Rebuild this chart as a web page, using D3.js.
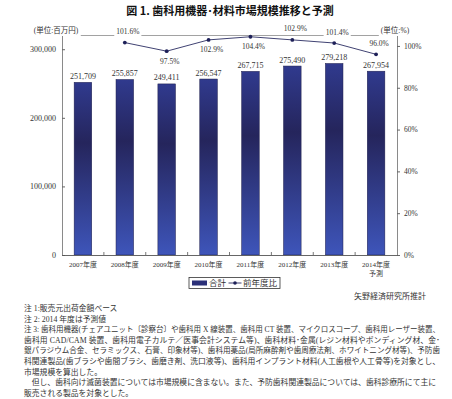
<!DOCTYPE html>
<html>
<head>
<meta charset="utf-8">
<script src="https://cdn.jsdelivr.net/npm/d3@7"></script>
<style>
  html, body { margin: 0; padding: 0; background: #fff; }
  svg { display: block; }
  text { font-family: "Liberation Serif", "Noto Sans CJK JP", serif; fill: #333; }
</style>
</head>
<body>
<svg id="chart" width="452" height="399"></svg>
<script>
// ---- data ----
const years = ["2007年度", "2008年度", "2009年度", "2010年度", "2011年度", "2012年度", "2013年度", "2014年度"];
const yearSub = ["", "", "", "", "", "", "", "予測"];
const totals = [251709, 255857, 249411, 256547, 267715, 275490, 279218, 267954];
const yoy = [null, 101.6, 97.5, 102.9, 104.4, 102.9, 101.4, 96.0];
const yoyLabelSide = [null, "above", "below", "below", "below", "above", "above", "above"];
const leftTicks = [0, 100000, 200000, 300000];
const rightTicks = [0, 20, 40, 60, 80, 100];
const title = "図 1. 歯科用機器･材料市場規模推移と予測";
const leftUnit = "(単位:百万円)";
const rightUnit = "(単位:%)";
const legendLabels = ["合計", "前年度比"];
const source = "矢野経済研究所推計";
const notes = [
  "注 1:販売元出荷金額ベース",
  " 注 2: 2014 年度は予測値",
  "注 3:  歯科用機器(チェアユニット〔診察台〕や歯科用 X 線装置、歯科用 CT 装置、マイクロスコープ、歯科用レーザー装置、",
  "歯科用 CAD/CAM 装置、歯科用電子カルテ／医事会計システム等)、歯科材料･金属(レジン材料やボンディング材、金･",
  "銀パラジウム合金、セラミックス、石膏、印象材等)、歯科用薬品(局所麻酔剤や歯周療法剤、ホワイトニング材等)、予防歯",
  "科関連製品(歯ブラシや歯間ブラシ、歯磨き剤、洗口液等)、歯科用インプラント材料(人工歯根や人工骨等)を対象とし、",
  "市場規模を算出した。",
  "　但し、歯科向け滅菌装置については市場規模に含まない。また、予防歯科関連製品については、歯科診療所にて主に",
  "販売される製品を対象とした。"
];
const notesJustify = [false, false, true, true, true, true, false, true, false];

// ---- layout ----
const L = 62, R = 397, T = 35.5, B = 255;
const svg = d3.select("#chart");

const x = d3.scaleBand().domain(years).range([L, R]).paddingInner(0.58).paddingOuter(0.29);
const yL = d3.scaleLinear().domain([0, 320000]).range([B, T]);
const yR = d3.scaleLinear().domain([0, 105]).range([B, T]);

// gradient
const defs = svg.append("defs");
const grad = defs.append("linearGradient").attr("id", "barGrad")
  .attr("x1", 0).attr("y1", 0).attr("x2", 0).attr("y2", 1);
grad.append("stop").attr("offset", "0%").attr("stop-color", "#303a8e");
grad.append("stop").attr("offset", "35%").attr("stop-color", "#25255c");
grad.append("stop").attr("offset", "100%").attr("stop-color", "#3e55ba");

// title
svg.append("text").attr("x", 230).attr("y", 15).attr("text-anchor", "middle")
  .style("font-family", "'Noto Sans CJK JP', sans-serif")
  .style("font-weight", "bold").style("font-size", "11px").style("fill", "#111")
  .text(title);

// frame lines
svg.append("line").attr("x1", L).attr("x2", R).attr("y1", T).attr("y2", T)
  .attr("stroke", "#8a8a8a").attr("stroke-width", 0.8);

// bars
svg.append("g").selectAll("rect").data(totals).join("rect")
  .attr("x", (d, i) => x(years[i]))
  .attr("width", x.bandwidth())
  .attr("y", d => yL(d))
  .attr("height", d => B - yL(d))
  .attr("fill", "url(#barGrad)")
  .attr("stroke", "#1d1d4a").attr("stroke-width", 0.5);

// bar value labels
svg.append("g").selectAll("text").data(totals).join("text")
  .attr("x", (d, i) => x(years[i]) + x.bandwidth() / 2)
  .attr("y", d => yL(d) - 3.5)
  .attr("text-anchor", "middle")
  .style("font-size", "8px")
  .text(d => d3.format(",")(d));

// left axis
const gL = svg.append("g").attr("transform", `translate(${L},0)`)
  .call(d3.axisLeft(yL).tickValues(leftTicks).tickSizeInner(-3).tickSizeOuter(0).tickPadding(6).tickFormat(d3.format(",")));
gL.select(".domain").attr("stroke", "#8a8a8a");
gL.selectAll(".tick line").attr("stroke", "#666");
gL.selectAll(".tick text").style("font-size", "8px").style("font-family", "'Liberation Serif', serif").attr("fill", "#333");

// right axis
const gR = svg.append("g").attr("transform", `translate(${R},0)`)
  .call(d3.axisRight(yR).tickValues(rightTicks).tickSizeInner(3).tickSizeOuter(0).tickPadding(4).tickFormat(d => d + "%"));
gR.select(".domain").attr("stroke", "#8a8a8a");
gR.selectAll(".tick line").attr("stroke", "#666");
gR.selectAll(".tick text").style("font-size", "7.5px").style("font-family", "'Liberation Serif', serif").attr("fill", "#333");

// bottom axis
const gB = svg.append("g").attr("transform", `translate(0,${B})`)
  .call(d3.axisBottom(x).tickSize(0).tickPadding(7).tickSizeOuter(0));
gB.select(".domain").attr("stroke", "#555").attr("stroke-width", 0.9);
gB.selectAll(".tick text").style("font-size", "7px").attr("fill", "#333")
  .each(function(d, i) {
    if (yearSub[i]) {
      d3.select(this).append("tspan").attr("x", 0).attr("dy", "1.25em").text(yearSub[i]);
    }
  });
// boundary ticks (inside)
svg.append("g").selectAll("line").data(years.slice(0, -1)).join("line")
  .attr("x1", d => x(d) + x.bandwidth() / 2 + x.step() / 2)
  .attr("x2", d => x(d) + x.bandwidth() / 2 + x.step() / 2)
  .attr("y1", B).attr("y2", B - 3)
  .attr("stroke", "#555").attr("stroke-width", 0.8);

// unit labels with white backgrounds
function labelWithBg(tx, ty, str, size, anchor) {
  const g = svg.append("g");
  const t = g.append("text").attr("x", tx).attr("y", ty).attr("text-anchor", anchor || "middle")
    .style("font-size", size + "px").text(str);
  const bb = t.node().getBBox();
  g.insert("rect", "text").attr("x", bb.x - 2).attr("y", bb.y - 1).attr("width", bb.width + 4).attr("height", bb.height + 2)
    .attr("fill", "#fff");
  return g;
}
labelWithBg(56, 33, leftUnit, 7.5);
labelWithBg(395, 33, rightUnit, 7.5);

// line series
const pts = yoy.map((v, i) => ({ v, i })).filter(d => d.v != null);
const line = d3.line().x(d => x(years[d.i]) + x.bandwidth() / 2).y(d => yR(d.v));
svg.append("path").datum(pts).attr("d", line)
  .attr("fill", "none").attr("stroke", "#2a2d62").attr("stroke-width", 0.9);
svg.append("g").selectAll("circle").data(pts).join("circle")
  .attr("cx", d => x(years[d.i]) + x.bandwidth() / 2)
  .attr("cy", d => yR(d.v))
  .attr("r", 1.9).attr("fill", "#1e2058");

// line labels
pts.forEach(d => {
  const cx = x(years[d.i]) + x.bandwidth() / 2 + 3;
  const cy = yR(d.v) + (yoyLabelSide[d.i] === "above" ? -8.5 : 12.5);
  labelWithBg(cx, cy, d3.format(".1f")(d.v) + "%", 7.5);
});

// legend
const lg = svg.append("g");
lg.append("rect").attr("x", 189).attr("y", 277.5).attr("width", 91).attr("height", 11)
  .attr("fill", "#fff").attr("stroke", "#333").attr("stroke-width", 0.8);
lg.append("rect").attr("x", 192).attr("y", 280.5).attr("width", 15).attr("height", 5).attr("fill", "#2b3079");
lg.append("text").attr("x", 209).attr("y", 286).style("font-size", "8.5px")
  .style("font-family", "'Noto Sans CJK JP', sans-serif").text(legendLabels[0]);
lg.append("line").attr("x1", 228.5).attr("x2", 241.5).attr("y1", 283).attr("y2", 283)
  .attr("stroke", "#2a2d62").attr("stroke-width", 0.9);
lg.append("circle").attr("cx", 235).attr("cy", 283).attr("r", 1.8).attr("fill", "#1e2058");
lg.append("text").attr("x", 243).attr("y", 286).style("font-size", "8.5px")
  .style("font-family", "'Noto Sans CJK JP', sans-serif").text(legendLabels[1]);

// source
svg.append("text").attr("x", 426).attr("y", 299).attr("text-anchor", "end")
  .style("font-size", "8px").style("font-family", "'Noto Sans CJK JP', sans-serif").text(source);

// notes
const baseNoteSize = 7.8;
svg.append("g").selectAll("text").data(notes).join("text")
  .attr("x", 24)
  .attr("y", (d, i) => 311 + i * 10.6)
  .style("font-size", baseNoteSize + "px")
  .style("font-family", "'Liberation Serif', 'Noto Sans CJK JP', serif")
  .attr("fill", "#222")
  .text(d => d)
  .each(function(d, i) {
    if (notesJustify[i]) {
      const target = i === 7 ? 412 : 416;
      const natural = this.getComputedTextLength();
      if (natural > target) {
        d3.select(this).style("font-size", (baseNoteSize * target / natural).toFixed(3) + "px");
      }
      d3.select(this).attr("textLength", target).attr("lengthAdjust", "spacing");
    }
  });
</script>
</body>
</html>
